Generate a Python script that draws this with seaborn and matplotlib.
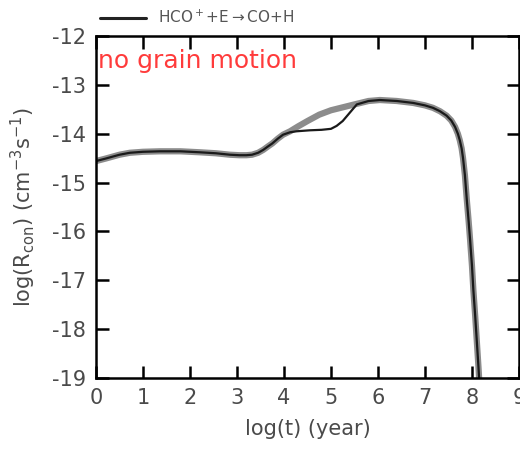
import pandas as pd
import matplotlib
matplotlib.use("Agg")
import matplotlib.pyplot as plt
import seaborn as sns

# log(t) [yr] and log reaction rate for HCO+ + e -> CO + H
log_t_gray = [0.0, 0.2, 0.35, 0.5, 0.72, 1.0, 1.36, 1.8, 2.21, 2.55, 2.85, 3.05, 3.2, 3.32, 3.45, 3.56, 3.66, 3.75, 3.87, 3.98,
              4.13, 4.3, 4.5, 4.75, 5.0, 5.25, 5.5, 5.8, 6.04, 6.4, 6.75, 7.0, 7.17, 7.32, 7.46, 7.56, 7.64, 7.7, 7.74,
              7.78, 7.81, 7.85, 7.89, 7.93, 7.96, 8.0, 8.03, 8.07, 8.1, 8.14, 8.17]
log_r_gray = [-14.56, -14.51, -14.47, -14.43, -14.39, -14.37, -14.36, -14.36, -14.38, -14.4, -14.43, -14.44, -14.44, -14.43, -14.39, -14.33, -14.26, -14.2, -14.1, -14.02,
              -13.95, -13.85, -13.74, -13.61, -13.52, -13.46, -13.4, -13.33, -13.31, -13.33, -13.37, -13.42, -13.47, -13.54, -13.63, -13.73, -13.86, -14.0, -14.13,
              -14.3, -14.5, -14.85, -15.35, -15.8, -16.17, -16.7, -17.2, -17.75, -18.2, -18.8, -19.3]

log_t_black = [0.0, 0.2, 0.35, 0.5, 0.72, 1.0, 1.36, 1.8, 2.21, 2.55, 2.85, 3.05, 3.2, 3.32, 3.45, 3.56, 3.66, 3.75, 3.87, 3.98,
               4.13, 4.27, 4.55, 4.8, 5.0, 5.12, 5.25, 5.4, 5.55, 5.8, 6.04, 6.4, 6.75, 7.0, 7.17, 7.32, 7.46, 7.56, 7.64, 7.7, 7.74,
               7.78, 7.81, 7.85, 7.89, 7.93, 7.96, 8.0, 8.03, 8.07, 8.1, 8.14, 8.17]
log_r_black = [-14.56, -14.51, -14.47, -14.43, -14.39, -14.37, -14.36, -14.36, -14.38, -14.4, -14.43, -14.44, -14.44, -14.43, -14.39, -14.33, -14.26, -14.2, -14.1, -14.02,
               -13.97, -13.95, -13.93, -13.92, -13.9, -13.84, -13.74, -13.57, -13.4, -13.33, -13.31, -13.33, -13.37, -13.42, -13.47, -13.54, -13.63, -13.73, -13.86, -14.0, -14.13,
               -14.3, -14.5, -14.85, -15.35, -15.8, -16.17, -16.7, -17.2, -17.75, -18.2, -18.8, -19.3]

x_ticks = list(range(0, 10))
y_ticks = list(range(-19, -11))

sns.set_theme(style="ticks")
plt.rcParams['font.family'] = ['DejaVu Sans']
plt.rcParams['axes.unicode_minus'] = False

txt = "#4a4a4a"
fig = plt.figure(figsize=(5.2, 4.53), dpi=100)
ax = fig.add_axes([0.1846, 0.1656, 0.8134, 0.7549])

df_g = pd.DataFrame({"t": log_t_gray, "r": log_r_gray})
df_b = pd.DataFrame({"t": log_t_black, "r": log_r_black})

sns.lineplot(data=df_g, x="t", y="r", ax=ax, color="#8c8c8c", lw=4.5, sort=False)
sns.lineplot(data=df_b, x="t", y="r", ax=ax, color="#1a1a1a", lw=1.6, sort=False)

ax.set_xlim(0, 9)
ax.set_ylim(-19, -12)
ax.set_xticks(x_ticks)
ax.set_yticks(y_ticks)
ax.tick_params(direction="in", top=True, right=True, length=9, width=1.8,
               labelsize=15, labelcolor=txt, color="black", pad=7)
for s in ax.spines.values():
    s.set_linewidth(1.8)
    s.set_color("black")

ax.set_xlabel("log(t) (year)", fontsize=15, color=txt, labelpad=8)
ax.set_ylabel(r"log(R$_{\rm con}$) (cm$^{-3}$s$^{-1}$)", fontsize=15, color=txt, labelpad=10)

ax.text(0.05, -12.52, "no grain motion", color="#ff3b3b", fontsize=18, va="center", ha="left")

# legend above the frame
fig.lines.append(plt.Line2D([0.192, 0.28], [0.961, 0.961], transform=fig.transFigure, color="#222222", lw=2.2))
fig.text(0.303, 0.961, r"HCO$^+$+E$\rightarrow$CO+H", fontsize=11, color="#555555", va="center", ha="left")

fig.savefig("out.png", dpi=100)
